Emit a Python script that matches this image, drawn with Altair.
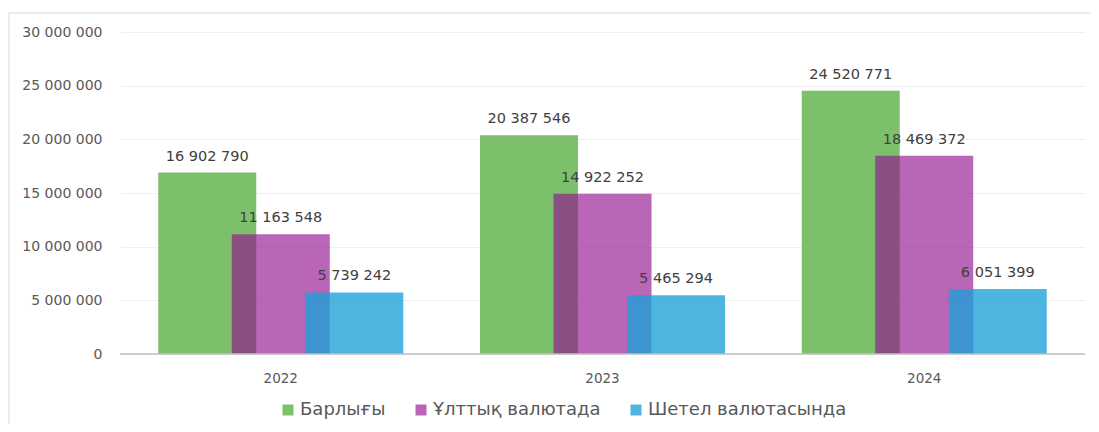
import altair as alt
import pandas as pd

years = ["2022", "2023", "2024"]
series = ["Барлығы", "Ұлттық валютада", "Шетел валютасында"]
total = [16902790, 20387546, 24520771]
national = [11163548, 14922252, 18469372]
foreign = [5739242, 5465294, 6051399]

colors = ["#7DC06B", "#93148F", "#1BA1D7"]
opacities = [1.0, 0.65, 0.78]

rows = []
for s, vals in zip(series, [total, national, foreign]):
    for y, v in zip(years, vals):
        rows.append({"year": y, "series": s, "value": v})
df = pd.DataFrame(rows)

FONT = "DejaVu Sans"

x_enc = alt.X(
    "year:N",
    sort=years,
    scale=alt.Scale(paddingInner=0.3146, paddingOuter=0.157),
    axis=alt.Axis(
        title=None, labelAngle=0, domain=False, ticks=False, labelPadding=17,
        labelFont=FONT, labelFontSize=13.5, labelColor="#595959",
    ),
)
xo_enc = alt.XOffset("series:N", sort=series, scale=alt.Scale(paddingInner=0, paddingOuter=0))
y_enc = alt.Y(
    "value:Q",
    scale=alt.Scale(domain=[0, 30000000], nice=False),
    axis=alt.Axis(
        title=None, values=[0, 5000000, 10000000, 15000000, 20000000, 25000000, 30000000],
        domain=False, ticks=False, labelPadding=18,
        labelExpr="join(split(format(datum.value, ','), ','), ' ')",
        labelFont=FONT, labelFontSize=14, labelColor="#595959",
        gridColor="#EFEFEF", gridWidth=1,
    ),
)

legend = alt.Legend(
    title=None, orient="none", legendX=159, legendY=369, direction="horizontal",
    symbolType="square", symbolSize=121, symbolStrokeWidth=0,
    labelFont=FONT, labelFontSize=18, labelColor="#595959", labelLimit=0,
    columnPadding=26, labelOffset=3,
)

base = alt.Chart(df).encode(x=x_enc, xOffset=xo_enc, y=y_enc)

bars = base.mark_bar(size=98).encode(
    color=alt.Color(
        "series:N",
        sort=series,
        scale=alt.Scale(domain=series, range=colors),
        legend=legend,
    ),
    opacity=alt.Opacity(
        "series:N",
        sort=series,
        scale=alt.Scale(type="ordinal", domain=series, range=opacities),
        legend=legend,
    ),
)

labels = base.transform_calculate(
    label="join(split(format(datum.value, ','), ','), ' ')"
).mark_text(
    dy=-12, baseline="alphabetic", font=FONT, fontSize=14.5, color="#404040"
).encode(text="label:N")

zero = alt.Chart(pd.DataFrame({"z": [0]})).mark_rule(color="#BFBFBF", strokeWidth=1.5).encode(
    y=alt.Y("z:Q", scale=alt.Scale(domain=[0, 30000000]))
)

frame_df = pd.DataFrame({"f": [0]})
frame_top = alt.Chart(frame_df).mark_rule(color="#D9D9D9", strokeWidth=1).encode(
    x=alt.value(-111), x2=alt.value(985), y=alt.value(-19)
)
frame_left = alt.Chart(frame_df).mark_rule(color="#D9D9D9", strokeWidth=1).encode(
    x=alt.value(-111), y=alt.value(-19), y2=alt.value(400)
)

chart = alt.layer(bars, zero, labels, frame_top, frame_left).properties(
    width=965, height=322,
    autosize=alt.AutoSizeParams(type="none"),
    padding={"left": 112, "top": 24, "right": 6, "bottom": 70},
).configure_view(stroke=None)

chart.save("out.html", embed_options={"renderer": "svg", "actions": False})
